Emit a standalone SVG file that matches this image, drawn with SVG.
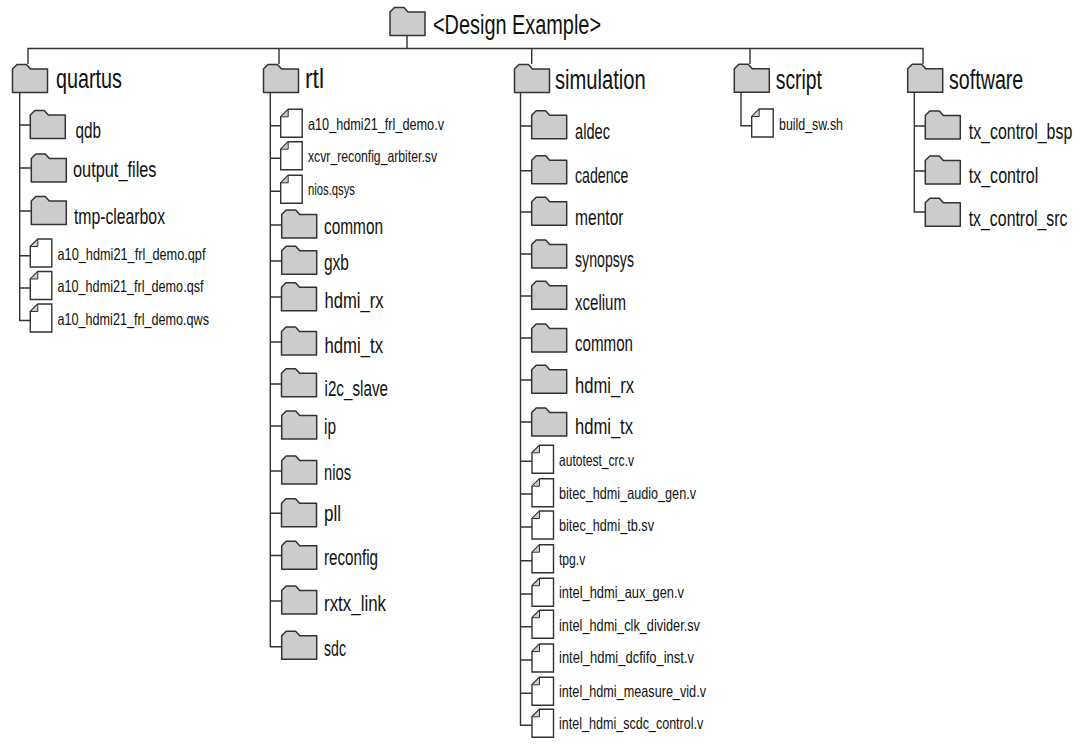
<svg xmlns="http://www.w3.org/2000/svg" width="1090" height="746" viewBox="0 0 1090 746">
<style>
text{font-family:"Liberation Sans",sans-serif;fill:#111;transform:translateY(.7px)}
.r{font-size:27px}.t{font-size:27px}.c{font-size:21.500px}.f{font-size:16.500px}
.lk{fill:none;stroke:#333;stroke-width:1.4}
.fo{fill:#ccc;stroke:#333;stroke-width:1.5;stroke-linejoin:round}
.fi{fill:#fff;stroke:#333;stroke-width:1.4}
.fd{fill:#ccc;stroke:#333;stroke-width:1}
</style>
<defs>
<g id="folder"><path class="fo" d="M0 28V4.500L4.500 0H14L18 4.500H35V28Z"/></g>
<g id="file"><path class="fi" d="M0 7.500L7.500 0H21.500V28H0Z"/><path class="fd" d="M0 7.500H7.500V0Z"/></g>
</defs>
<rect width="1090" height="746" fill="#fff"/>
<g id="connectors" class="lk">
<path d="M28 64V48.500H923V64M407 36V48.500M279 48.500V64M531.700 48.500V64M750 48.500V64"/>
<path d="M19.700 92V320.500H30.300M19.700 125H30.300M19.700 168H31.300M19.700 211H31.300M19.700 255.700H30.300M19.700 288H30.300"/>
<path d="M270.300 92V646.700H281.700M270.300 125.700H280.700M270.300 158.300H280.700M270.300 191.300H280.700M270.300 225H281.700M270.300 261H281.700M270.300 297H281.700M270.300 342H281.700M270.300 384H281.700M270.300 426H281.700M270.300 471H281.700M270.300 513.300H281.700M270.300 555.500H281.700M270.300 601H281.700"/>
<path d="M520.500 92V725.300H532M520.500 126H531.700M520.500 170.700H531.700M520.500 212H531.700M520.500 254H531.700M520.500 296H531.700M520.500 338H531.700M520.500 380H531.700M520.500 422H531.700M520.500 461.300H532M520.500 494H532M520.500 527H532M520.500 560.700H532M520.500 594H532M520.500 626.700H532M520.500 660H532M520.500 693.300H532"/>
<path d="M741 92V125.700H751.700"/>
<path d="M914.300 92V212H925.300M914.300 126H925.300M914.300 171H925.300"/>
</g>
<g id="root"><use href="#folder" x="390" y="7.500"/><text class="r" x="433" y="33" textLength="168" lengthAdjust="spacingAndGlyphs">&lt;Design Example&gt;</text></g>
<g id="quartus"><use href="#folder" x="12.500" y="64.500"/><text class="t" x="56" y="87.700" textLength="66" lengthAdjust="spacingAndGlyphs">quartus</text></g>
<g id="quartus-qdb"><use href="#folder" x="30.300" y="110.500"/><text class="c" x="75.500" y="137" textLength="25.500" lengthAdjust="spacingAndGlyphs">qdb</text></g>
<g id="quartus-output-files"><use href="#folder" x="31.300" y="154"/><text class="c" x="73" y="176.700" textLength="83.500" lengthAdjust="spacingAndGlyphs">output_files</text></g>
<g id="quartus-tmp-clearbox"><use href="#folder" x="31.300" y="196.500"/><text class="c" x="74" y="223" textLength="91" lengthAdjust="spacingAndGlyphs">tmp-clearbox</text></g>
<g id="quartus-qpf"><use href="#file" x="30.300" y="239"/><text class="f" x="57.500" y="259" textLength="148" lengthAdjust="spacingAndGlyphs">a10_hdmi21_frl_demo.qpf</text></g>
<g id="quartus-qsf"><use href="#file" x="30.300" y="271.500"/><text class="f" x="57.500" y="291.700" textLength="146" lengthAdjust="spacingAndGlyphs">a10_hdmi21_frl_demo.qsf</text></g>
<g id="quartus-qws"><use href="#file" x="30.300" y="304"/><text class="f" x="57.500" y="324" textLength="151.500" lengthAdjust="spacingAndGlyphs">a10_hdmi21_frl_demo.qws</text></g>
<g id="rtl"><use href="#folder" x="263.500" y="64.500"/><text class="t" x="305" y="87.700" textLength="19" lengthAdjust="spacingAndGlyphs">rtl</text></g>
<g id="rtl-demo"><use href="#file" x="280.700" y="109.300"/><text class="f" x="308" y="129.300" textLength="136" lengthAdjust="spacingAndGlyphs">a10_hdmi21_frl_demo.v</text></g>
<g id="rtl-arbiter"><use href="#file" x="280.700" y="141.700"/><text class="f" x="308" y="161.300" textLength="129" lengthAdjust="spacingAndGlyphs">xcvr_reconfig_arbiter.sv</text></g>
<g id="rtl-nios-qsys"><use href="#file" x="280.700" y="175.300"/><text class="f" x="308" y="194.500" textLength="47" lengthAdjust="spacingAndGlyphs">nios.qsys</text></g>
<g id="rtl-common"><use href="#folder" x="281.700" y="210"/><text class="c" x="324" y="233.300" textLength="59" lengthAdjust="spacingAndGlyphs">common</text></g>
<g id="rtl-gxb"><use href="#folder" x="281.700" y="246.300"/><text class="c" x="324" y="269.300" textLength="25" lengthAdjust="spacingAndGlyphs">gxb</text></g>
<g id="rtl-hdmi-rx"><use href="#folder" x="281.500" y="282.700"/><text class="c" x="324.500" y="307.700" textLength="59" lengthAdjust="spacingAndGlyphs">hdmi_rx</text></g>
<g id="rtl-hdmi-tx"><use href="#folder" x="281.500" y="327"/><text class="c" x="324.500" y="352.700" textLength="58.500" lengthAdjust="spacingAndGlyphs">hdmi_tx</text></g>
<g id="rtl-i2c-slave"><use href="#folder" x="281.500" y="368.700"/><text class="c" x="324.500" y="395.700" textLength="63.500" lengthAdjust="spacingAndGlyphs">i2c_slave</text></g>
<g id="rtl-ip"><use href="#folder" x="281.700" y="411"/><text class="c" x="324" y="433" textLength="12" lengthAdjust="spacingAndGlyphs">ip</text></g>
<g id="rtl-nios"><use href="#folder" x="281.700" y="456"/><text class="c" x="324" y="479.300" textLength="27" lengthAdjust="spacingAndGlyphs">nios</text></g>
<g id="rtl-pll"><use href="#folder" x="281.500" y="498.700"/><text class="c" x="324" y="520.700" textLength="17" lengthAdjust="spacingAndGlyphs">pll</text></g>
<g id="rtl-reconfig"><use href="#folder" x="281.700" y="541.300"/><text class="c" x="324" y="564" textLength="54" lengthAdjust="spacingAndGlyphs">reconfig</text></g>
<g id="rtl-rxtx-link"><use href="#folder" x="281.700" y="586"/><text class="c" x="324" y="610" textLength="62" lengthAdjust="spacingAndGlyphs">rxtx_link</text></g>
<g id="rtl-sdc"><use href="#folder" x="281.700" y="631.300"/><text class="c" x="324" y="655" textLength="22" lengthAdjust="spacingAndGlyphs">sdc</text></g>
<g id="simulation"><use href="#folder" x="514.500" y="64.500"/><text class="t" x="555" y="88" textLength="90.700" lengthAdjust="spacingAndGlyphs">simulation</text></g>
<g id="sim-aldec"><use href="#folder" x="531.700" y="110.700"/><text class="c" x="575" y="138.700" textLength="35" lengthAdjust="spacingAndGlyphs">aldec</text></g>
<g id="sim-cadence"><use href="#folder" x="531.700" y="155.700"/><text class="c" x="575" y="182.700" textLength="53.500" lengthAdjust="spacingAndGlyphs">cadence</text></g>
<g id="sim-mentor"><use href="#folder" x="531.700" y="197.300"/><text class="c" x="575" y="224.700" textLength="48.500" lengthAdjust="spacingAndGlyphs">mentor</text></g>
<g id="sim-synopsys"><use href="#folder" x="531.700" y="240"/><text class="c" x="575" y="266" textLength="59" lengthAdjust="spacingAndGlyphs">synopsys</text></g>
<g id="sim-xcelium"><use href="#folder" x="531.700" y="281.300"/><text class="c" x="575" y="309" textLength="51" lengthAdjust="spacingAndGlyphs">xcelium</text></g>
<g id="sim-common"><use href="#folder" x="531.700" y="324"/><text class="c" x="575" y="350" textLength="58" lengthAdjust="spacingAndGlyphs">common</text></g>
<g id="sim-hdmi-rx"><use href="#folder" x="531.700" y="365.300"/><text class="c" x="575" y="392.700" textLength="59" lengthAdjust="spacingAndGlyphs">hdmi_rx</text></g>
<g id="sim-hdmi-tx"><use href="#folder" x="531.700" y="408"/><text class="c" x="575" y="433" textLength="58" lengthAdjust="spacingAndGlyphs">hdmi_tx</text></g>
<g id="sim-autotest"><use href="#file" x="532" y="445.300"/><text class="f" x="559" y="465" textLength="75" lengthAdjust="spacingAndGlyphs">autotest_crc.v</text></g>
<g id="sim-audio-gen"><use href="#file" x="532" y="478.700"/><text class="f" x="559" y="498.700" textLength="137" lengthAdjust="spacingAndGlyphs">bitec_hdmi_audio_gen.v</text></g>
<g id="sim-tb"><use href="#file" x="532" y="511"/><text class="f" x="559" y="530.700" textLength="95" lengthAdjust="spacingAndGlyphs">bitec_hdmi_tb.sv</text></g>
<g id="sim-tpg"><use href="#file" x="532" y="544.700"/><text class="f" x="559" y="564" textLength="26.300" lengthAdjust="spacingAndGlyphs">tpg.v</text></g>
<g id="sim-aux-gen"><use href="#file" x="532" y="578.300"/><text class="f" x="559" y="597.700" textLength="125" lengthAdjust="spacingAndGlyphs">intel_hdmi_aux_gen.v</text></g>
<g id="sim-clk-divider"><use href="#file" x="532" y="610.300"/><text class="f" x="559" y="630" textLength="141" lengthAdjust="spacingAndGlyphs">intel_hdmi_clk_divider.sv</text></g>
<g id="sim-dcfifo"><use href="#file" x="532" y="644"/><text class="f" x="559" y="662.700" textLength="135" lengthAdjust="spacingAndGlyphs">intel_hdmi_dcfifo_inst.v</text></g>
<g id="sim-measure"><use href="#file" x="532" y="677.300"/><text class="f" x="559" y="696.700" textLength="147" lengthAdjust="spacingAndGlyphs">intel_hdmi_measure_vid.v</text></g>
<g id="sim-scdc"><use href="#file" x="532" y="709.300"/><text class="f" x="559" y="728.700" textLength="144.300" lengthAdjust="spacingAndGlyphs">intel_hdmi_scdc_control.v</text></g>
<g id="script"><use href="#folder" x="734.300" y="64.300"/><text class="t" x="775.700" y="88.300" textLength="46.300" lengthAdjust="spacingAndGlyphs">script</text></g>
<g id="script-build"><use href="#file" x="751.700" y="109"/><text class="f" x="779" y="129" textLength="64" lengthAdjust="spacingAndGlyphs">build_sw.sh</text></g>
<g id="software"><use href="#folder" x="907.700" y="64.300"/><text class="t" x="949" y="88" textLength="74.300" lengthAdjust="spacingAndGlyphs">software</text></g>
<g id="sw-bsp"><use href="#folder" x="925.300" y="111"/><g transform="translate(968.700 138.300) scale(.8 1)"><text class="c" x="0" y="0" textLength="129.500" lengthAdjust="spacingAndGlyphs">tx_control_bsp</text></g></g>
<g id="sw-control"><use href="#folder" x="925.300" y="156"/><text class="c" x="968.700" y="182.700" textLength="69.600" lengthAdjust="spacingAndGlyphs">tx_control</text></g>
<g id="sw-src"><use href="#folder" x="925.300" y="198.300"/><g transform="translate(968.700 225) scale(.8 1)"><text class="c" x="0" y="0" textLength="123.500" lengthAdjust="spacingAndGlyphs">tx_control_src</text></g></g>
</svg>
